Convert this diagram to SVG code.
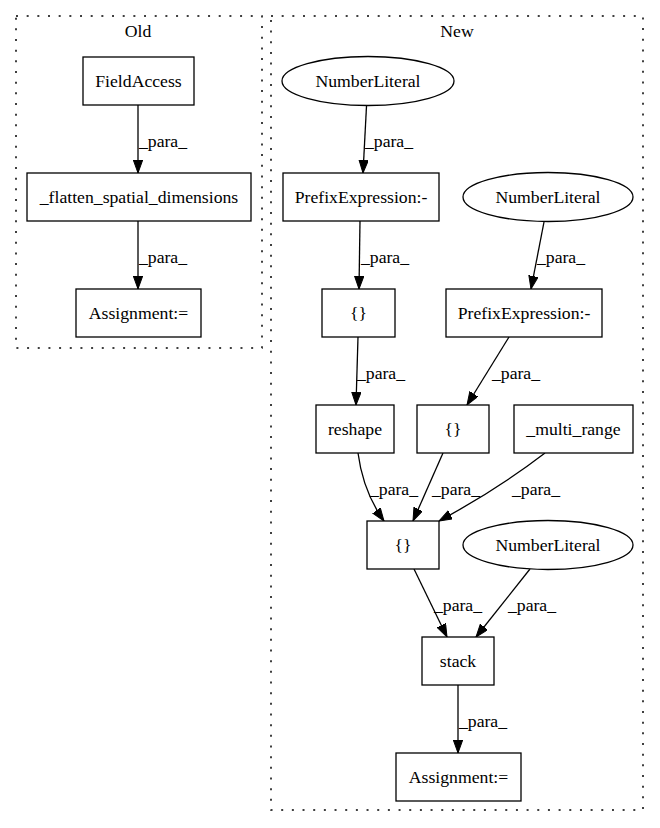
<svg xmlns="http://www.w3.org/2000/svg" width="660" height="828" viewBox="0 0 660 828">
<style>
text{font-family:"Liberation Serif","Times New Roman",serif;font-size:17.7px;fill:#000;text-anchor:middle}
.n{fill:#fff;stroke:#000;stroke-width:1.3}
.c{fill:none;stroke:#000;stroke-width:1.5;stroke-dasharray:2,8.67}
.e{fill:none;stroke:#000;stroke-width:1.3;marker-end:url(#ah)}
</style>
<defs>
<marker id="ah" markerWidth="13" markerHeight="10" refX="13" refY="4.7" orient="auto" markerUnits="userSpaceOnUse">
<polygon points="0,0 13,4.7 0,9.4" fill="#000" stroke="#000" stroke-width="1"/>
</marker>
</defs>
<rect width="660" height="828" fill="#fff"/>
<g id="cluster_old">
<rect class="c" x="16" y="16" width="246" height="332"/>
<text x="138" y="37">Old</text>
</g>
<g id="cluster_new">
<rect class="c" x="271" y="16" width="372" height="794"/>
<text x="457" y="37">New</text>
</g>
<g id="edges">
<path class="e" d="M138,105 L138,173"/>
<text x="163" y="147">_para_</text>
<path class="e" d="M138,221 L138,289"/>
<text x="163" y="263">_para_</text>
<path class="e" d="M366.5,106 L363,173"/>
<text x="389" y="147">_para_</text>
<path class="e" d="M360,221 L359,289"/>
<text x="385" y="263">_para_</text>
<path class="e" d="M544,222 L531,289"/>
<text x="561" y="263">_para_</text>
<path class="e" d="M358,337 L356,405"/>
<text x="381" y="379">_para_</text>
<path class="e" d="M509,337 L467,405"/>
<text x="516" y="379">_para_</text>
<path class="e" d="M358,453 C361,476 369,500 384,521"/>
<text x="394" y="495">_para_</text>
<path class="e" d="M443,453 L413,521"/>
<text x="456" y="495">_para_</text>
<path class="e" d="M545,453 C515,476 478,500 439,521"/>
<text x="536" y="495">_para_</text>
<path class="e" d="M414,569 L447,637"/>
<text x="458" y="611">_para_</text>
<path class="e" d="M530,569 L476,637"/>
<text x="532" y="611">_para_</text>
<path class="e" d="M458,685 L458,753"/>
<text x="483" y="727">_para_</text>
</g>
<g id="old_fieldaccess"><rect class="n" x="83" y="57" width="111" height="48"/><text x="138.5" y="87">FieldAccess</text></g>
<g id="old_flatten"><rect class="n" x="27" y="173" width="224" height="48"/><text x="139" y="203">_flatten_spatial_dimensions</text></g>
<g id="old_assign"><rect class="n" x="76" y="289" width="125" height="48"/><text x="138.5" y="319">Assignment:=</text></g>
<g id="new_nl1"><ellipse class="n" cx="368" cy="81" rx="86" ry="24.5"/><text x="368" y="87">NumberLiteral</text></g>
<g id="new_pe1"><rect class="n" x="283" y="173" width="156" height="48"/><text x="361" y="203">PrefixExpression:-</text></g>
<g id="new_nl2"><ellipse class="n" cx="548" cy="197" rx="85" ry="24.5"/><text x="548" y="203">NumberLiteral</text></g>
<g id="new_brace1"><rect class="n" x="322" y="289" width="73" height="48"/><text x="358.5" y="319">{}</text></g>
<g id="new_pe2"><rect class="n" x="446" y="289" width="156" height="48"/><text x="524" y="319">PrefixExpression:-</text></g>
<g id="new_reshape"><rect class="n" x="316" y="405" width="78" height="48"/><text x="355" y="435">reshape</text></g>
<g id="new_brace2"><rect class="n" x="417" y="405" width="72" height="48"/><text x="453" y="435">{}</text></g>
<g id="new_multirange"><rect class="n" x="514" y="405" width="119" height="48"/><text x="573.5" y="435">_multi_range</text></g>
<g id="new_brace3"><rect class="n" x="367" y="521" width="72" height="48"/><text x="403" y="551">{}</text></g>
<g id="new_nl3"><ellipse class="n" cx="548" cy="545" rx="85" ry="24.5"/><text x="548" y="551">NumberLiteral</text></g>
<g id="new_stack"><rect class="n" x="422" y="637" width="72" height="48"/><text x="458" y="667">stack</text></g>
<g id="new_assign"><rect class="n" x="396" y="753" width="125" height="48"/><text x="458.5" y="783">Assignment:=</text></g>
</svg>
